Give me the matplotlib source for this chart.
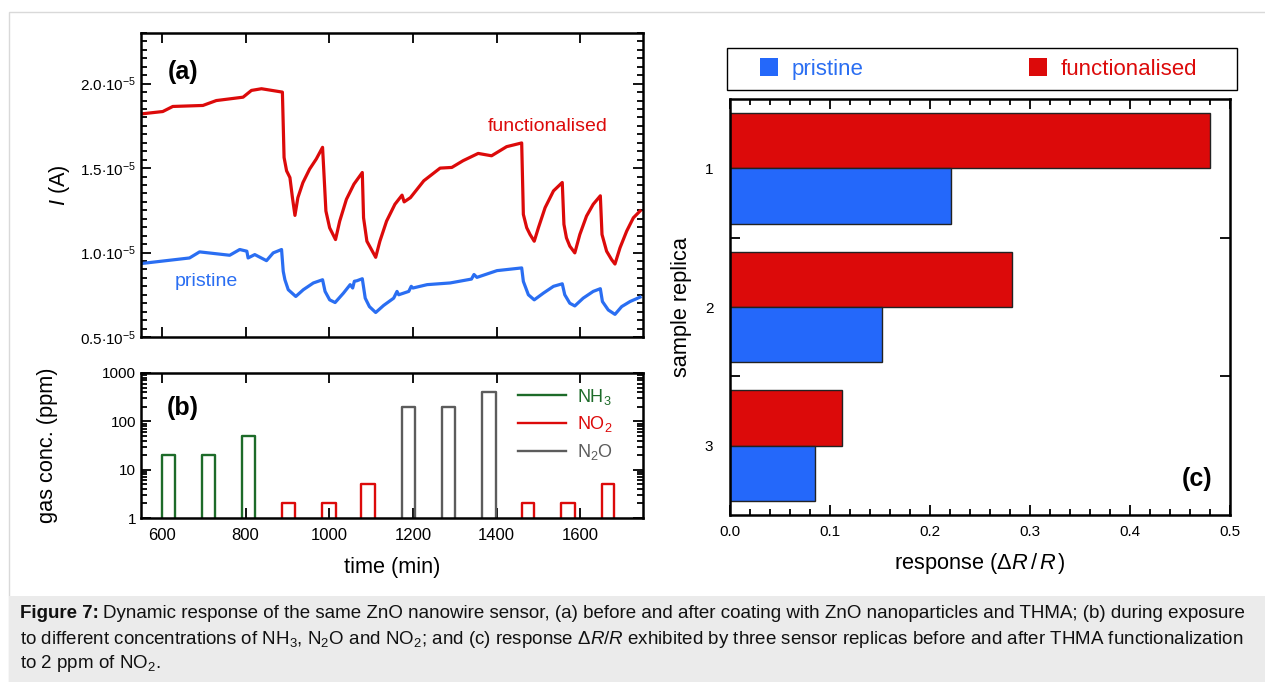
import matplotlib
matplotlib.use('Agg')
import matplotlib.pyplot as plt
import numpy as np
from matplotlib.ticker import MultipleLocator, FixedLocator, LogLocator, NullFormatter, FixedFormatter
from matplotlib.patches import Rectangle

plt.rcParams['font.family'] = ['Liberation Sans', 'DejaVu Sans']
plt.rcParams['mathtext.fontset'] = 'custom'
plt.rcParams['mathtext.rm'] = 'Liberation Sans'
plt.rcParams['mathtext.it'] = 'Liberation Sans:italic'
plt.rcParams['mathtext.bf'] = 'Liberation Sans:bold'

RED = '#dc0a0a'
BLUE = '#2a6ef2'
GREEN = '#1d6b29'
GREY = '#5c5c5c'

# (a) current vs time, in units of 1e-5 A
t_func = [547, 602, 626, 698, 730, 794, 814, 838, 888, 892, 898, 906, 912, 918, 925, 937,
          953, 969, 984, 987, 992, 1001, 1015, 1025, 1041, 1059, 1079, 1082, 1090, 1111,
          1121, 1137, 1157, 1174, 1179, 1194, 1226, 1265, 1293, 1320, 1356, 1388, 1424,
          1460, 1464, 1472, 1480, 1490, 1500, 1516, 1536, 1557, 1561, 1567, 1575, 1587,
          1599, 1615, 1631, 1648, 1652, 1663, 1675, 1683, 1695, 1711, 1727, 1743]
i_func = [1.82, 1.835, 1.865, 1.871, 1.90, 1.92, 1.96, 1.97, 1.95, 1.563, 1.484, 1.444,
          1.325, 1.22, 1.325, 1.414, 1.494, 1.554, 1.623, 1.484, 1.246, 1.146, 1.077, 1.186,
          1.315, 1.405, 1.474, 1.206, 1.067, 0.972, 1.067, 1.186, 1.286, 1.34, 1.30, 1.325,
          1.425, 1.50, 1.504, 1.544, 1.587, 1.573, 1.627, 1.649, 1.226, 1.147, 1.107, 1.067,
          1.147, 1.266, 1.365, 1.415, 1.167, 1.087, 1.038, 0.998, 1.107, 1.216, 1.286, 1.336,
          1.107, 1.008, 0.958, 0.932, 1.028, 1.127, 1.206, 1.246]

t_pris = [547, 666, 690, 762, 786, 803, 806, 822, 850, 866, 886, 890, 894, 902, 920, 938,
          962, 984, 990, 1001, 1014, 1034, 1050, 1056, 1060, 1066, 1079, 1086, 1096, 1111,
          1130, 1154, 1162, 1166, 1190, 1196, 1200, 1234, 1289, 1340, 1346, 1353, 1401,
          1460, 1464, 1476, 1490, 1512, 1536, 1557, 1563, 1575, 1587, 1607, 1631, 1648,
          1653, 1667, 1683, 1699, 1719, 1743]
i_pris = [0.934, 0.968, 1.004, 0.984, 1.018, 1.008, 0.968, 0.988, 0.952, 0.998, 1.018,
          0.889, 0.839, 0.78, 0.74, 0.78, 0.82, 0.839, 0.77, 0.72, 0.704, 0.76, 0.81, 0.79,
          0.83, 0.833, 0.845, 0.73, 0.68, 0.645, 0.687, 0.73, 0.77, 0.75, 0.77, 0.80, 0.79,
          0.81, 0.82, 0.843, 0.87, 0.853, 0.893, 0.909, 0.829, 0.75, 0.72, 0.76, 0.80, 0.815,
          0.75, 0.70, 0.684, 0.73, 0.77, 0.786, 0.71, 0.66, 0.634, 0.68, 0.71, 0.736]

# (b) gas pulses: start, end (min), concentration (ppm)
nh3_start = [600, 697, 792]
nh3_end = [632, 728, 822]
nh3_conc = [20, 20, 50]
no2_start = [887, 983, 1077, 1460, 1555, 1651]
no2_end = [919, 1015, 1109, 1490, 1587, 1681]
no2_conc = [2, 2, 5, 2, 2, 5]
n2o_start = [1174, 1270, 1366]
n2o_end = [1205, 1300, 1398]
n2o_conc = [200, 200, 400]

# (c) response
replicas = [1, 2, 3]
resp_pristine = [0.221, 0.152, 0.085]
resp_functional = [0.480, 0.282, 0.112]

W, H = 1265, 682
fig = plt.figure(figsize=(W / 100, H / 100), dpi=100)

# frame and caption background
fig.patches.append(Rectangle((9 / W, 0), 1 - 9 / W + 0.01, 1 - 12 / H, transform=fig.transFigure,
                             facecolor='white', edgecolor='#d9d9d9', lw=1.0, zorder=-5))
fig.patches.append(Rectangle((9 / W, 0), 1 - 9 / W, (H - 596) / H, transform=fig.transFigure,
                             facecolor='#ebebeb', edgecolor='none', zorder=-4))

LABEL_FS = 15.7


def style_axes(ax):
    for s in ax.spines.values():
        s.set_linewidth(1.8)
    ax.tick_params(which='both', direction='in', top=True, right=True, width=1.3)
    ax.tick_params(which='major', length=7, labelsize=11)
    ax.tick_params(which='minor', length=4)


# ---- (a)
ax1 = fig.add_axes([141 / W, 1 - 337 / H, 502 / W, 304 / H])
ax1.plot(t_func, np.array(i_func) * 1e-5, color=RED, lw=2.3, solid_joinstyle='round')
ax1.plot(t_pris, np.array(i_pris) * 1e-5, color=BLUE, lw=2.3, solid_joinstyle='round')
ax1.set_xlim(550, 1750)
ax1.set_ylim(0.5e-5, 2.3e-5)
ax1.xaxis.set_major_locator(MultipleLocator(200))
ax1.set_xticklabels([])
yt = [0.5e-5, 1.0e-5, 1.5e-5, 2.0e-5]
ax1.yaxis.set_major_locator(FixedLocator(yt))
ax1.yaxis.set_major_formatter(FixedFormatter([r'$0.5{\cdot}10^{-5}$', r'$1.0{\cdot}10^{-5}$',
                                              r'$1.5{\cdot}10^{-5}$', r'$2.0{\cdot}10^{-5}$']))
ax1.yaxis.set_minor_locator(MultipleLocator(0.05e-5))
style_axes(ax1)
ax1.set_ylabel(r'$I$ (A)', fontsize=LABEL_FS, labelpad=6)
ax1.text(0.084, 0.872, '(a)', transform=ax1.transAxes, fontsize=18, fontweight='bold',
         ha='center', va='center')
ax1.text(1523, 1.746e-5, 'functionalised', color=RED, fontsize=14, ha='center', va='center')
ax1.text(705, 0.829e-5, 'pristine', color=BLUE, fontsize=14, ha='center', va='center')

# ---- (b)
ax2 = fig.add_axes([141 / W, 1 - 518 / H, 502 / W, 145 / H])
for starts, ends, concs, col, lab in [(nh3_start, nh3_end, nh3_conc, GREEN, r'NH$_3$'),
                                      (no2_start, no2_end, no2_conc, RED, r'NO$_2$'),
                                      (n2o_start, n2o_end, n2o_conc, GREY, r'N$_2$O')]:
    for k, (s, e, c) in enumerate(zip(starts, ends, concs)):
        ax2.plot([s, s, e, e], [1, c, c, 1], color=col, lw=1.7,
                 label=lab if k == 0 else None)
ax2.set_yscale('log')
ax2.set_xlim(550, 1750)
ax2.set_ylim(1, 1000)
ax2.xaxis.set_major_locator(MultipleLocator(200))
ax2.yaxis.set_major_locator(FixedLocator([1, 10, 100, 1000]))
ax2.yaxis.set_major_formatter(FixedFormatter(['1', '10', '100', '1000']))
ax2.yaxis.set_minor_locator(LogLocator(base=10, subs=np.arange(2, 10)))
ax2.yaxis.set_minor_formatter(NullFormatter())
style_axes(ax2)
ax2.tick_params(axis='x', which='major', labelsize=12, pad=7)
ax2.set_xlabel('time (min)', fontsize=LABEL_FS, labelpad=10)
ax2.set_ylabel('gas conc. (ppm)', fontsize=LABEL_FS, labelpad=32)
ax2.text(0.084, 0.76, '(b)', transform=ax2.transAxes, fontsize=18, fontweight='bold',
         ha='center', va='center')
leg = ax2.legend(loc='upper right', bbox_to_anchor=(0.962, 0.98), frameon=False, fontsize=13,
                 handlelength=2.7, handletextpad=0.6, labelspacing=0.42, borderaxespad=0.2)
for txt, col in zip(leg.get_texts(), [GREEN, RED, GREY]):
    txt.set_color(col)

# ---- (c)
ax3 = fig.add_axes([730 / W, 1 - 515 / H, 500 / W, 416 / H])
ypos = np.array(replicas, dtype=float)
ax3.barh(ypos - 0.2, resp_functional, height=0.4, color='#dc0a0a', edgecolor='#222222',
         lw=1.0, label='functionalised')
ax3.barh(ypos + 0.2, resp_pristine, height=0.4, color='#2468fa', edgecolor='#222222',
         lw=1.0, label='pristine')
ax3.set_xlim(0, 0.5)
ax3.set_ylim(3.5, 0.5)
ax3.xaxis.set_minor_locator(MultipleLocator(0.02))
ax3.set_xticks([0, 0.1, 0.2, 0.3, 0.4, 0.5])
ax3.set_xticklabels(['0.0', '0.1', '0.2', '0.3', '0.4', '0.5'])
ax3.set_yticks([1.5, 2.5])
ax3.set_yticklabels([])
ax3.set_yticks(replicas, minor=True)
ax3.set_yticklabels([str(r) for r in replicas], minor=True)
style_axes(ax3)
ax3.tick_params(axis='y', which='minor', length=0, labelsize=11, pad=12)
ax3.tick_params(axis='x', which='major', pad=7)
ax3.set_xlabel(r'response ($\Delta R\,/\,R\,$)', fontsize=LABEL_FS, labelpad=9)
ax3.set_ylabel('sample replica', fontsize=LABEL_FS, labelpad=9)
ax3.text(0.934, 0.087, '(c)', transform=ax3.transAxes, fontsize=18, fontweight='bold',
         ha='center', va='center')

# legend box above (c)
fig.patches.append(Rectangle((727 / W, 1 - 90 / H), 510 / W, 42 / H, transform=fig.transFigure,
                             facecolor='white', edgecolor='black', lw=1.0, zorder=1))
hb = Rectangle((0, 0), 1, 1, facecolor='#2468fa', edgecolor='none')
hr = Rectangle((0, 0), 1, 1, facecolor='#dc0a0a', edgecolor='none')
leg3 = fig.legend([hb, hr], ['pristine', 'functionalised'], ncol=2,
                  loc='center left', bbox_to_anchor=(760 / W, 1 - 69 / H),
                  fontsize=16, handlelength=0.82, handleheight=0.82, handletextpad=0.6,
                  columnspacing=7.45, frameon=False, borderpad=0, borderaxespad=0)
for txt, col in zip(leg3.get_texts(), [BLUE, RED]):
    txt.set_color(col)

# ---- caption
cap = ['Dynamic response of the same ZnO nanowire sensor, (a) before and after '
       'coating with ZnO nanoparticles and THMA; (b) during exposure',
       r'to different concentrations of NH$_3$, N$_2$O and NO$_2$; and (c) response '
       r'$\mathit{\Delta R/R}$ exhibited by three sensor replicas before and after THMA functionalization',
       r'to 2 ppm of NO$_2$.']
CAP_FS = 13.5
renderer = fig.canvas.get_renderer()
bold = fig.text(20 / W, 1 - 614 / H, 'Figure 7:', fontsize=CAP_FS, fontweight='bold',
                ha='left', va='center', color='#111111')
bw = bold.get_window_extent(renderer).width
for k, line in enumerate(cap):
    x0 = 20 + (bw + 4 if k == 0 else 0)
    fig.text(x0 / W, 1 - (614 + 25 * k) / H, line, fontsize=CAP_FS, ha='left', va='center',
             color='#111111')

fig.savefig('out.png', dpi=100)
